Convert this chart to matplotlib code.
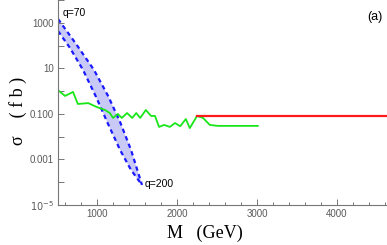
import numpy as np
import matplotlib
matplotlib.use("Agg")
import matplotlib.pyplot as plt

# blue band: q=70 (left end) .. q=200 (lower end)
m_up = [512, 738, 962, 1138, 1288, 1425, 1562]
sig_up = [1500, 119, 8.6, 0.62, 0.0445, 0.00262, 7.6e-5]
m_lo = [512, 662, 825, 988, 1138, 1288, 1425, 1562]
sig_lo = [445, 79.6, 8.6, 0.56, 0.0363, 0.00262, 3.47e-4, 7.6e-5]

# green curve
m_green = [510, 600, 700, 760, 890, 1000, 1100, 1160, 1200, 1260, 1310, 1375, 1440,
           1490, 1540, 1610, 1675, 1725, 1775, 1840, 1910, 1975, 2040, 2110, 2160,
           2250, 2325, 2410, 2510, 3010]
sig_green = [1.13, 0.62, 0.93, 0.275, 0.30, 0.20, 0.15, 0.11, 0.067, 0.10, 0.067,
             0.11, 0.067, 0.11, 0.067, 0.15, 0.082, 0.082, 0.027, 0.033, 0.027,
             0.040, 0.029, 0.060, 0.024, 0.082, 0.067, 0.033, 0.030, 0.030]

# red curve
m_red = [2250, 4650]
sig_red = [0.08, 0.08]

yticks = [1e3, 10, 0.1, 1e-3, 1e-5]
ylabels = ["1000", "10", "0.100", "0.001", r"$10^{-5}$"]
xticks = [1000, 2000, 3000, 4000]

fig = plt.figure(figsize=(3.87, 2.45), dpi=100)
ax = fig.add_axes([58 / 387, 40 / 245, 329 / 387, 205 / 245])

ax.fill(m_up + m_lo[::-1], sig_up + sig_lo[::-1], color="#c9c9f7", lw=0)
ax.plot(m_up, sig_up, color="#1a1aff", lw=1.6, dashes=(2, 1.6))
ax.plot(m_lo, sig_lo, color="#1a1aff", lw=1.6, dashes=(2, 1.6))
ax.plot(m_green, sig_green, color="#19e619", lw=1.3)
ax.plot(m_red, sig_red, color="#ff1a1a", lw=1.6)

ax.set_yscale("log")
ax.set_xlim(512, 4625)
ax.set_ylim(1e-5, 1.02e4)

ax.set_yticks(yticks)
ax.set_yticklabels(ylabels)
ax.set_yticks([1e4, 100, 1, 0.01, 1e-4], minor=True)
ax.yaxis.set_minor_formatter(matplotlib.ticker.NullFormatter())
ax.set_xticks(xticks)
ax.set_xticks(np.arange(600, 4601, 200), minor=True)

for s in ["top", "right"]:
    ax.spines[s].set_visible(False)
for s in ["left", "bottom"]:
    ax.spines[s].set_color("#777777")
    ax.spines[s].set_linewidth(0.8)

ax.tick_params(which="both", direction="in", color="#777777", width=0.7,
               labelsize=7, labelcolor="#5a5a5a", pad=3)
ax.tick_params(which="major", length=4)
ax.tick_params(axis="x", which="minor", length=2.5)
ax.tick_params(axis="y", which="minor", length=4)
for t in ax.get_xticklabels() + ax.get_yticklabels():
    t.set_family("Liberation Sans")

ax.text(0.015, 0.935, "q=70", transform=ax.transAxes, fontsize=7.5,
        family="Liberation Sans", ha="left", va="center")
ax.text(1600, 8.5e-5, "q=200", fontsize=7.5, family="Liberation Sans",
        ha="left", va="center")
ax.text(0.985, 0.915, "(a)", transform=ax.transAxes, fontsize=9,
        family="Liberation Sans", ha="right", va="center")

fig.text(205 / 387, 1 - 233 / 245, "M   (GeV)", family="Liberation Serif",
         fontsize=13, ha="center", va="center")
fig.text(18 / 387, 1 - 111 / 245, "σ    ( f b )", family="Liberation Serif",
         fontsize=13, ha="center", va="center", rotation=90)

fig.savefig("out.png", dpi=100)
